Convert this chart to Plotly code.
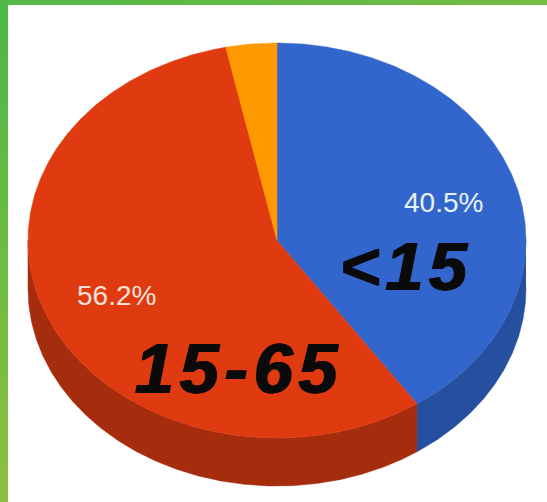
import numpy as np
import plotly.graph_objects as go

# Data
categories = ["<15", "15-65", ">65"]
shares = [40.5, 56.2, 3.3]
share_labels = ["40.5%", "56.2%"]
big_labels = ["&lt;\u200a1\u200a5", "1\u200a5\u200a-\u200a6\u200a5"]

# Styles
top_colors = ["#3366CC", "#DF3A10", "#FF9900"]
side_colors = ["#26509F", "#A62C0E", "#B86E00"]
W, H = 547, 502
cx, cy, rx, ry, depth = 277, 240.5, 249, 197.5, 48


def arc(a0, a1, dy=0.0):
    t = np.radians(np.linspace(a0, a1, max(3, int(abs(a1 - a0) * 2))))
    return cx + rx * np.sin(t), cy - ry * np.cos(t) + dy


fig = go.Figure()
edges = np.concatenate([[0], np.cumsum(shares)]) / sum(shares) * 360

# Side walls: only the part of the rim that faces the viewer (90 to 270 degrees)
for i, name in enumerate(categories):
    a0, a1 = max(edges[i], 90), min(edges[i + 1], 270)
    if a1 <= a0:
        continue
    x0, y0 = arc(a0, a1)
    x1, y1 = arc(a0, a1, depth)
    fig.add_trace(go.Scatter(
        x=np.r_[x0, x1[::-1]], y=np.r_[y0, y1[::-1]], mode="lines", fill="toself",
        fillcolor=side_colors[i], line=dict(color=side_colors[i], width=0.5),
        hoverinfo="skip", showlegend=False,
    ))

# Top faces
for i, name in enumerate(categories):
    x0, y0 = arc(edges[i], edges[i + 1])
    fig.add_trace(go.Scatter(
        x=np.r_[cx, x0, cx], y=np.r_[cy, y0, cy], mode="lines", fill="toself",
        fillcolor=top_colors[i], line=dict(color=top_colors[i], width=0.5),
        name=name, hoverinfo="skip", showlegend=False,
    ))

# Text
for txt, x, y, col in zip(share_labels, [443, 116], [202, 295], ["#E8F2FA", "#F6E2D8"]):
    fig.add_annotation(x=x, y=y, text=txt, showarrow=False,
                       font=dict(family="Liberation Sans", size=28, color=col))
for txt, x, y, size in zip(big_labels, [404, 236], [266, 369], [68, 70]):
    fig.add_annotation(x=x, y=y, text=txt, showarrow=False,
                       font=dict(family="Liberation Sans", size=size, color="#0A0A0A",
                                 weight=700, style="italic",
                                 shadow="1px 0 0 #0A0A0A, -1px 0 0 #0A0A0A"))

# Green frame (top and left edges)
shapes = []
n = 24
for k in range(n):
    f = k / (n - 1)
    r, g, b = int(78 + 62 * f), int(184 + 8 * f), int(72 - 8 * f)
    shapes.append(dict(type="rect", xref="x", yref="y", x0=0, x1=8,
                       y0=H * k / n, y1=H, line_width=0,
                       fillcolor=f"rgb({r},{g},{b})", layer="below"))
for k in range(n):
    f = k / (n - 1)
    r2, g2, b2 = int(84 + 32 * f), int(184 + 4 * f), int(72 - 4 * f)
    shapes.append(dict(type="rect", xref="x", yref="y", x0=W * k / n, x1=W,
                       y0=0, y1=5, line_width=0,
                       fillcolor=f"rgb({r2},{g2},{b2})", layer="below"))

fig.update_layout(
    width=W, height=H, margin=dict(l=0, r=0, t=0, b=0),
    paper_bgcolor="white", plot_bgcolor="white", shapes=shapes,
    xaxis=dict(range=[0, W], visible=False, fixedrange=True),
    yaxis=dict(range=[H, 0], visible=False, fixedrange=True),
)
fig.write_html("out.html", config=dict(displayModeBar=False),
               post_script="document.body.style.margin='0';document.body.style.overflow='hidden';")
